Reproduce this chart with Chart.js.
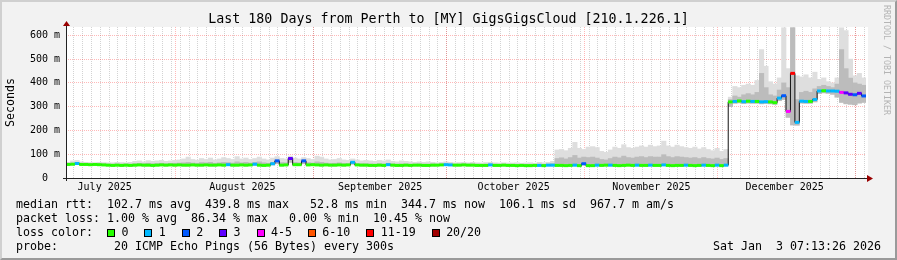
<!DOCTYPE html>
<html>
<head>
<meta charset="utf-8">
<script src="https://cdn.jsdelivr.net/npm/chart.js@4"></script>
<style>
  html, body { margin: 0; padding: 0; background: #f2f2f2; }
  #wrap { position: relative; width: 897px; height: 260px; overflow: hidden; font-family: "DejaVu Sans Mono", monospace; color: #000; }
  #c { position: absolute; left: 0; top: 0; }
  .frame { position: absolute; left: 0; top: 0; width: 897px; height: 260px; box-sizing: border-box;
           border-top: 2px solid #d0d0d0; border-left: 2px solid #d0d0d0; border-bottom: 2px solid #9a9a9a; border-right: 2px solid #9a9a9a; }
  .title { position: absolute; left: 0; width: 897px; top: 11px; text-align: center; font-size: 13.3px; line-height: 16px; white-space: pre; }
  .row { position: absolute; left: 16px; font-size: 11.63px; line-height: 14px; white-space: pre; }
  .box { display: inline-block; width: 8px; height: 8px; box-sizing: border-box; border: 1px solid #000; margin-right: 6.4px; vertical-align: -0.5px; }
  .lbl { margin-right: 16px; }
  .stamp { position: absolute; right: 16px; top: 239px; font-size: 11.63px; line-height: 14px; white-space: pre; }
  .mark { position: absolute; left: 892px; top: 5px; transform: rotate(90deg); transform-origin: 0 0; font-size: 8.3px; line-height: 10px; color: #b4b4b4; white-space: pre; }
</style>
</head>
<body>
<div id="wrap">
  <canvas id="c" width="897" height="260"></canvas>
  <div class="title">Last 180 Days from Perth to [MY] GigsGigsCloud [210.1.226.1]</div>
  <div class="row" style="top:197px">median rtt:  102.7 ms avg  439.8 ms max   52.8 ms min  344.7 ms now  106.1 ms sd  967.7 m am/s</div>
  <div class="row" style="top:211px">packet loss: 1.00 % avg  86.34 % max   0.00 % min  10.45 % now</div>
  <div class="row" id="lossRow" style="top:225px">loss color:  </div>
  <div class="row" style="top:239px">probe:        20 ICMP Echo Pings (56 Bytes) every 300s</div>
  <div class="stamp">Sat Jan  3 07:13:26 2026</div>
  <div class="mark">RRDTOOL / TOBI OETIKER</div>
  <div class="frame"></div>
</div>
<script>
// one value per day, starting Jul 7 2025 07:13 (180 days up to Jan 3 2026)
const median = [
  57, 58, 61, 57, 57, 56, 57, 56, 55, 54,
  53, 54, 53, 54, 53, 54, 55, 54, 54, 53,
  54, 55, 54, 55, 54, 55, 54, 54, 55, 54,
  54, 55, 54, 54, 55, 54, 56, 54, 54, 55,
  54, 55, 58, 54, 53, 54, 60, 72, 54, 55,
  82, 56, 56, 72, 55, 56, 55, 54, 55, 54,
  54, 55, 54, 55, 66, 55, 54, 54, 53, 53,
  54, 53, 56, 54, 53, 53, 54, 53, 54, 54,
  53, 53, 54, 54, 55, 56, 55, 54, 54, 55,
  54, 54, 53, 53, 53, 55, 53, 53, 54, 53,
  53, 52, 53, 52, 52, 53, 53, 52, 54, 54,
  53, 53, 52, 53, 54, 52, 60, 52, 52, 54,
  53, 54, 54, 53, 52, 53, 54, 53, 54, 53,
  53, 54, 53, 53, 55, 53, 52, 53, 53, 54,
  53, 52, 53, 54, 53, 52, 54, 52, 54, 320,
  322, 324, 321, 323, 322, 322, 320, 321, 320, 317,
  336, 346, 280, 440, 234, 323, 322, 322, 330, 366,
  367, 366, 366, 365, 360, 358, 352, 350, 356, 345
];

// lost pings out of 20
const loss = [
  0, 0, 1, 0, 0, 0, 0, 0, 0, 0,
  0, 0, 0, 0, 0, 0, 0, 0, 0, 0,
  0, 0, 0, 0, 0, 0, 0, 0, 0, 0,
  0, 0, 0, 0, 0, 0, 1, 0, 0, 0,
  0, 0, 1, 0, 0, 0, 1, 2, 0, 0,
  3, 0, 0, 2, 0, 0, 0, 0, 0, 0,
  0, 0, 0, 0, 1, 0, 0, 0, 0, 0,
  0, 0, 1, 0, 0, 0, 0, 0, 0, 0,
  0, 0, 0, 0, 0, 1, 1, 0, 0, 0,
  0, 0, 0, 0, 0, 1, 0, 0, 0, 0,
  0, 0, 0, 0, 0, 0, 1, 0, 1, 1,
  0, 0, 0, 0, 1, 0, 2, 0, 0, 1,
  0, 0, 1, 0, 0, 0, 0, 0, 1, 0,
  0, 1, 0, 0, 1, 0, 0, 0, 0, 1,
  0, 0, 0, 1, 0, 0, 1, 0, 1, 0,
  1, 0, 1, 0, 1, 0, 1, 1, 0, 0,
  1, 2, 5, 15, 1, 1, 1, 0, 1, 1,
  0, 1, 1, 1, 5, 3, 3, 2, 3, 2
];

// smoke: lowest ping, top of the dense part, highest ping
const pingMin = [
  54, 55, 56, 54, 54, 53, 54, 53, 52, 51,
  51, 51, 50, 51, 50, 51, 52, 51, 51, 50,
  51, 52, 51, 52, 51, 52, 51, 51, 52, 51,
  51, 52, 51, 51, 52, 51, 52, 51, 51, 52,
  51, 52, 54, 51, 50, 51, 55, 60, 51, 52,
  66, 53, 53, 60, 52, 53, 52, 51, 52, 51,
  51, 52, 51, 52, 58, 52, 51, 51, 50, 50,
  51, 50, 52, 51, 50, 50, 51, 50, 51, 51,
  50, 50, 51, 51, 52, 52, 52, 51, 51, 52,
  51, 51, 50, 50, 50, 52, 50, 50, 51, 50,
  50, 49, 50, 49, 49, 50, 50, 49, 51, 51,
  50, 50, 49, 50, 51, 49, 55, 49, 49, 51,
  50, 51, 51, 50, 49, 50, 51, 50, 51, 50,
  50, 51, 50, 50, 52, 50, 49, 50, 50, 51,
  50, 49, 50, 51, 50, 49, 51, 49, 51, 300,
  314, 316, 313, 315, 314, 314, 312, 313, 312, 310,
  325, 330, 255, 223, 222, 315, 314, 314, 320, 355,
  358, 356, 352, 340, 318, 312, 310, 308, 315, 318
];

const pingCore = [
  61, 63, 65, 62, 61, 60, 61, 60, 59, 58,
  58, 59, 58, 59, 58, 60, 61, 60, 62, 60,
  61, 62, 60, 61, 62, 63, 64, 66, 63, 62,
  65, 64, 66, 62, 64, 66, 65, 63, 68, 64,
  66, 63, 66, 68, 64, 62, 66, 76, 65, 64,
  86, 66, 64, 76, 65, 63, 68, 66, 63, 61,
  62, 64, 61, 60, 70, 61, 60, 60, 59, 58,
  60, 59, 62, 59, 58, 59, 59, 58, 58, 59,
  58, 58, 59, 58, 59, 60, 59, 58, 58, 59,
  58, 59, 58, 57, 58, 59, 58, 57, 58, 57,
  57, 57, 57, 57, 57, 57, 58, 57, 58, 60,
  82, 85, 80, 86, 95, 84, 88, 86, 88, 84,
  78, 76, 82, 88, 85, 92, 86, 84, 88, 90,
  86, 90, 88, 88, 98, 90, 86, 90, 88, 86,
  84, 86, 82, 86, 82, 80, 84, 78, 82, 330,
  345, 340, 350, 355, 350, 360, 440, 380, 350, 345,
  370, 400, 380, 632, 330, 360, 365, 360, 375, 385,
  390, 385, 380, 395, 540, 460, 420, 400, 395, 390
];

const pingMax = [
  66, 72, 74, 68, 66, 65, 64, 66, 65, 64,
  64, 66, 65, 64, 66, 70, 72, 68, 73, 70,
  72, 74, 70, 72, 74, 76, 80, 88, 78, 75,
  82, 78, 84, 76, 80, 86, 82, 78, 90, 80,
  84, 78, 82, 88, 80, 76, 84, 90, 82, 80,
  92, 84, 80, 86, 82, 78, 92, 88, 80, 76,
  78, 82, 76, 74, 80, 76, 72, 74, 72, 70,
  74, 72, 76, 70, 68, 72, 70, 68, 66, 68,
  66, 68, 66, 64, 66, 68, 66, 64, 65, 66,
  64, 66, 64, 63, 65, 66, 64, 63, 64, 63,
  63, 64, 62, 63, 64, 62, 66, 64, 66, 70,
  118, 120, 115, 125, 150, 125, 120, 130, 132, 128,
  112, 108, 118, 130, 125, 140, 128, 125, 130, 135,
  130, 138, 132, 135, 155, 135, 130, 138, 132, 128,
  125, 130, 122, 128, 120, 115, 125, 112, 120, 340,
  385, 380, 390, 395, 390, 410, 540, 470, 405, 395,
  421, 632, 460, 632, 430, 425, 434, 421, 445, 415,
  421, 405, 400, 421, 632, 620, 500, 430, 440, 421
];

const lossLabels = ['0', '1', '2', '3', '4-5', '6-10', '11-19', '20/20'];
const lossColors = ['#26ff00', '#00b8ff', '#0059ff', '#5e00ff', '#ff00ff', '#ff5500', '#ff0000', '#a00000'];
const monthLabels = ['July 2025', 'August 2025', 'September 2025', 'October 2025', 'November 2025', 'December 2025'];
const yTickValues = [0, 50, 100, 150, 200, 250, 300, 350, 400, 450, 500, 550, 600];

const DAY = 86400000;
const endTime = Date.UTC(2026, 0, 3, 7, 13, 26);
const startTime = endTime - 180 * DAY;
const dayOf = (y, m, d) => (Date.UTC(y, m, d) - startTime) / DAY;

function lossIndex(n) {
  if (n <= 3) return n;
  if (n <= 5) return 4;
  if (n <= 10) return 5;
  if (n <= 19) return 6;
  return 7;
}

// x ticks: 2-day minor grid, month boundaries, month labels on the 16th
const xTicks = [];
for (let t = dayOf(2025, 6, 9); t < 180; t += 2) xTicks.push({ value: t, kind: 'minor', text: '' });
for (let m = 7; m <= 12; m++) xTicks.push({ value: dayOf(2025, m, 1), kind: 'major', text: '' });
monthLabels.forEach((name, i) => xTicks.push({ value: dayOf(2025, 6 + i, 16), kind: 'label', text: name }));
xTicks.sort((a, b) => a.value - b.value);

const MAJOR = 'rgba(255,0,0,0.28)';
const MINOR = 'rgba(150,150,150,0.42)';

// legend boxes
const lossRow = document.getElementById('lossRow');
lossLabels.forEach((txt, i) => {
  const b = document.createElement('span');
  b.className = 'box';
  b.style.background = lossColors[i];
  const l = document.createElement('span');
  l.className = 'lbl';
  l.textContent = txt;
  lossRow.appendChild(b);
  lossRow.appendChild(l);
});

const pts = arr => arr.map((v, i) => ({ x: i + 0.5, y: v }));
const band = (lo, hi) => lo.map((v, i) => ({ x: i + 0.5, y: [v, hi[i]] }));

const rrdFrame = {
  id: 'rrdFrame',
  beforeDraw(chart) {
    const { ctx, chartArea: a } = chart;
    ctx.save();
    ctx.fillStyle = '#ffffff';
    ctx.fillRect(a.left, a.top, a.right - a.left + 2, a.bottom - a.top);
    ctx.restore();
  },
  afterDatasetsDraw(chart) {
    const { ctx, chartArea: a } = chart;
    ctx.save();
    ctx.strokeStyle = '#222';
    ctx.lineWidth = 1;
    ctx.beginPath();
    ctx.moveTo(a.left + 0.5, a.bottom + 3);
    ctx.lineTo(a.left + 0.5, a.top - 4);
    ctx.moveTo(a.left - 3, a.bottom + 0.5);
    ctx.lineTo(a.right + 3, a.bottom + 0.5);
    ctx.stroke();
    ctx.fillStyle = '#990000';
    ctx.beginPath();
    ctx.moveTo(a.left - 3, a.top - 1);
    ctx.lineTo(a.left + 4, a.top - 1);
    ctx.lineTo(a.left + 0.5, a.top - 6);
    ctx.closePath();
    ctx.fill();
    ctx.beginPath();
    ctx.moveTo(a.right + 1, a.bottom - 3);
    ctx.lineTo(a.right + 1, a.bottom + 4);
    ctx.lineTo(a.right + 7, a.bottom + 0.5);
    ctx.closePath();
    ctx.fill();
    ctx.restore();
  }
};

Chart.defaults.font.family = '"DejaVu Sans Mono", monospace';
Chart.defaults.color = '#000';

new Chart(document.getElementById('c'), {
  type: 'bar',
  data: {
    datasets: [
      {
        type: 'bar', data: band(pingMin, pingMax), backgroundColor: '#dedede',
        grouped: false, barPercentage: 1, categoryPercentage: 1, borderWidth: 0, order: 4
      },
      {
        type: 'bar', data: band(pingMin, pingCore), backgroundColor: '#bcbcbc',
        grouped: false, barPercentage: 1, categoryPercentage: 1, borderWidth: 0, order: 3
      },
      {
        type: 'line', data: pts(median), stepped: 'middle', borderColor: '#111',
        borderWidth: 1, pointRadius: 0, order: 2
      },
      {
        type: 'line', data: pts(median), showLine: false, pointStyle: 'line',
        pointRadius: 2.3, pointBorderWidth: 3,
        pointBorderColor: c => lossColors[lossIndex(loss[c.dataIndex])],
        order: 1
      }
    ]
  },
  options: {
    responsive: false,
    devicePixelRatio: 1,
    animation: false,
    events: [],
    layout: { padding: { top: 27, right: 31, bottom: 0, left: 0 } },
    plugins: { legend: { display: false }, tooltip: { enabled: false } },
    scales: {
      x: {
        type: 'linear', min: 0, max: 180, offset: false,
        afterBuildTicks: s => { s.ticks = xTicks.map(t => ({ ...t })); },
        afterFit: s => { s.height = 82; },
        grid: {
          offset: false, drawTicks: false,
          color: c => c.tick && c.tick.kind === 'major' ? MAJOR
            : c.tick && c.tick.kind === 'minor' ? MINOR : 'rgba(0,0,0,0)'
        },
        border: { display: false, dash: [1, 1] },
        ticks: {
          autoSkip: false, maxRotation: 0, padding: 3,
          font: { size: 10 },
          callback: (v, i, ticks) => ticks[i].text
        }
      },
      y: {
        min: 0, max: 635,
        afterBuildTicks: s => { s.ticks = yTickValues.map(v => ({ value: v })); },
        afterFit: s => { s.width = 66; },
        grid: {
          drawTicks: false,
          color: c => c.tick.value === 0 ? 'rgba(0,0,0,0)'
            : c.tick.value % 100 === 0 ? MAJOR : MINOR
        },
        border: { display: false, dash: [1, 1] },
        ticks: {
          padding: 6,
          font: { size: 10 },
          callback: v => v === 0 ? '0  ' : (v % 100 === 0 ? v + ' m' : '')
        },
        title: {
          display: true, text: 'Seconds',
          font: { size: 11.63, lineHeight: 1.2 },
          padding: { top: 4, bottom: 0 }
        }
      }
    }
  },
  plugins: [rrdFrame]
});
</script>
</body>
</html>
